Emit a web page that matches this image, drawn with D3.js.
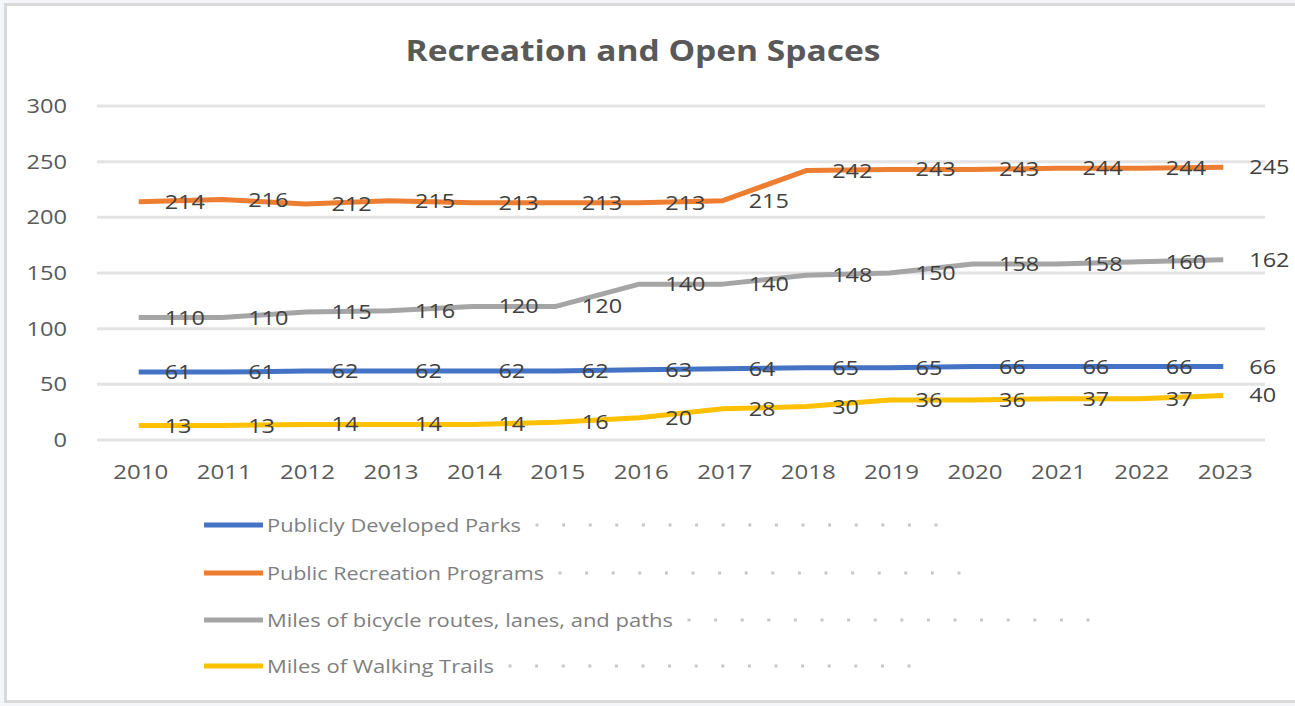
<!DOCTYPE html>
<html>
<head>
<meta charset="utf-8">
<script src="https://cdn.jsdelivr.net/npm/d3@7"></script>
<style>
  html, body { margin: 0; padding: 0; background: #f4f6fa; }
  svg { display: block; }
  text { font-family: "Open Sans", "Liberation Sans", sans-serif; }
</style>
</head>
<body>
<div id="chart"></div>
<script>
const years = ["2010","2011","2012","2013","2014","2015","2016","2017","2018","2019","2020","2021","2022","2023"];
const parks = [61,61,62,62,62,62,63,64,65,65,66,66,66,66];
const programs = [214,216,212,215,213,213,213,215,242,243,243,244,244,245];
const bicycle = [110,110,115,116,120,120,140,140,148,150,158,158,160,162];
const walking = [13,13,14,14,14,16,20,28,30,36,36,37,37,40];
const yTicks = [0,50,100,150,200,250,300];
const seriesNames = [
  "Publicly Developed Parks",
  "Public Recreation Programs",
  "Miles of bicycle routes, lanes, and paths",
  "Miles of Walking Trails"
];
const seriesColors = ["#4472c4", "#ed7d31", "#a5a5a5", "#ffc000"];
const seriesValues = [parks, programs, bicycle, walking];

const W = 1295, H = 706;
const svg = d3.select("#chart").append("svg")
  .attr("width", W).attr("height", H);

// chart area with light border
svg.append("rect").attr("x", 5.5).attr("y", 4.5).attr("width", W).attr("height", 697)
  .attr("fill", "#fff").attr("stroke", "#d9d9d9").attr("stroke-width", 3);

svg.append("text")
  .attr("x", 643).attr("y", 61)
  .attr("text-anchor", "middle")
  .attr("font-size", 28).attr("font-weight", "bold")
  .attr("fill", "#595959")
  .attr("textLength", 475).attr("lengthAdjust", "spacingAndGlyphs")
  .text("Recreation and Open Spaces");

const x = d3.scaleBand().domain(years).range([97, 1265]);
const y = d3.scaleLinear().domain([0, 300]).range([440, 106]);
const cx = d => x(d) + x.bandwidth() / 2;

// gridlines
svg.append("g").selectAll("line").data(yTicks).enter().append("line")
  .attr("x1", 97).attr("x2", 1265)
  .attr("y1", d => y(d)).attr("y2", d => y(d))
  .attr("stroke", "#e3e3e3").attr("stroke-width", 3);

// y axis labels
svg.append("g").selectAll("text").data(yTicks).enter().append("text")
  .attr("x", 67).attr("y", d => y(d))
  .attr("text-anchor", "end").attr("dy", "0.35em")
  .attr("font-size", 20).attr("fill", "#595959")
  .attr("textLength", d => String(d).length * 13.5).attr("lengthAdjust", "spacingAndGlyphs")
  .text(d => d);

// x axis labels
svg.append("g").selectAll("text").data(years).enter().append("text")
  .attr("x", d => cx(d) + 2).attr("y", 472)
  .attr("text-anchor", "middle").attr("dy", "0.35em")
  .attr("font-size", 20).attr("fill", "#595959")
  .attr("textLength", 55).attr("lengthAdjust", "spacingAndGlyphs")
  .text(d => d);

const line = d3.line().x((d, i) => cx(years[i])).y(d => y(d));

seriesValues.forEach((vals, k) => {
  svg.append("path").datum(vals)
    .attr("d", line)
    .attr("fill", "none")
    .attr("stroke", seriesColors[k])
    .attr("stroke-width", 5)
    .attr("stroke-linejoin", "round");
});

// data labels (offset to the right of each point, as in the reference)
seriesValues.forEach((vals, k) => {
  svg.append("g").selectAll("text").data(vals).enter().append("text")
    .attr("x", (d, i) => cx(years[i]) + 26)
    .attr("y", d => y(d))
    .attr("dy", "0.35em")
    .attr("font-size", 20).attr("fill", "#404040")
    .attr("textLength", d => String(d).length * 13.4).attr("lengthAdjust", "spacingAndGlyphs")
    .text(d => d);
});

// legend
const legendY = [525, 573, 620, 666];
const legendW = [254, 277, 406, 227];
const legend = svg.append("g");
seriesNames.forEach((name, k) => {
  const g = legend.append("g").attr("transform", `translate(0,${legendY[k]})`);
  g.append("line").attr("x1", 204).attr("x2", 263).attr("y1", 0).attr("y2", 0)
    .attr("stroke", seriesColors[k]).attr("stroke-width", 5);
  g.append("text").attr("x", 267).attr("y", 0).attr("dy", "0.35em")
    .attr("font-size", 19).attr("fill", "#7f7f7f")
    .attr("textLength", legendW[k]).attr("lengthAdjust", "spacingAndGlyphs")
    .text(name);
  const start = 267 + legendW[k] + 16;
  g.append("g").selectAll("rect").data(d3.range(16)).enter().append("rect")
    .attr("x", i => start + i * 26.6 - 1.5).attr("y", -1.5)
    .attr("width", 3).attr("height", 3)
    .attr("fill", "#c8c8c8");
});
</script>
</body>
</html>
